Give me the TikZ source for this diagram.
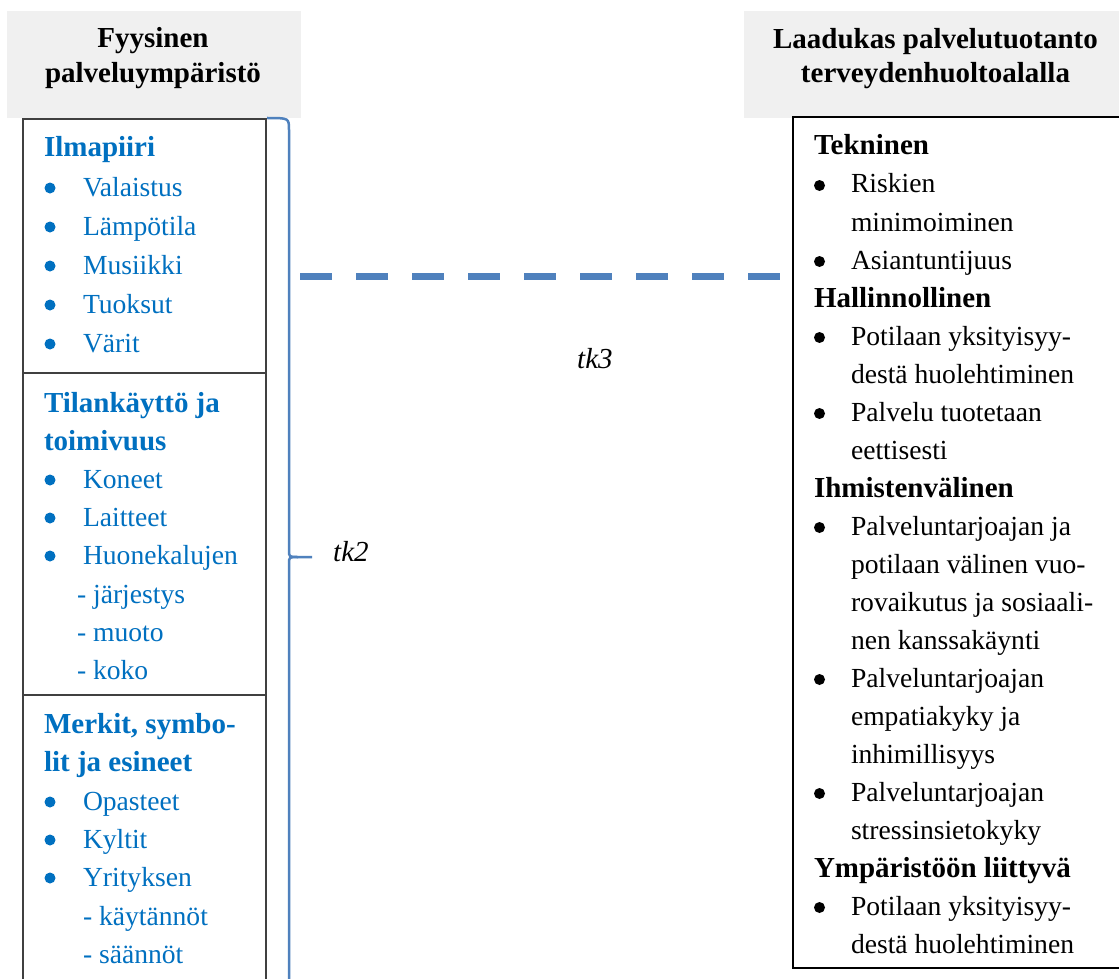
\documentclass[tikz,border=0pt]{standalone}
\usepackage{fontspec}
\setmainfont{Liberation Serif}
\definecolor{itemblue}{HTML}{0070C0}
\definecolor{linkblue}{HTML}{4F81BD}
\definecolor{headgray}{HTML}{F0F0F0}
\definecolor{framegray}{HTML}{404040}

\begin{document}
\begin{tikzpicture}[x=1pt,y=-1pt,
  txt/.style={inner sep=0pt, outer sep=0pt, anchor=base west},
  headtxt/.style={inner sep=0pt, outer sep=0pt, anchor=base, font=\bfseries\fontsize{29}{34}\selectfont},
  lhead/.style={txt, text=itemblue, font=\bfseries\fontsize{29}{34}\selectfont},
  litem/.style={txt, text=itemblue, font=\fontsize{27.6}{34}\selectfont},
  rhead/.style={txt, font=\bfseries\fontsize{29}{34}\selectfont},
  ritem/.style={txt, font=\fontsize{27.6}{34}\selectfont},
  lbul/.style={circle, fill=itemblue, inner sep=0pt, minimum size=11pt},
  rbul/.style={circle, fill=black, inner sep=0pt, minimum size=11pt},
  tklabel/.style={inner sep=0pt, anchor=base west, font=\itshape\fontsize{29}{34}\selectfont},
  brace/.style={draw=linkblue, line width=2.5pt},
  link/.style={draw=linkblue, line width=7.5pt, dash pattern=on 32pt off 24pt}
]
\clip (0,0) rectangle (1119,979);
\fill[white] (0,0) rectangle (1119,979);

% header panels
\fill[headgray] (7,11) rectangle (301,118);
\fill[headgray] (744,11) rectangle (1125,118);
\node[headtxt] (lh1) at (153,48) {Fyysinen};
\node[headtxt] (lh2) at (153,83) {palveluympäristö};
\node[headtxt] (rh1) at (935.5,49) {Laadukas palvelutuotanto};
\node[headtxt] (rh2) at (935.5,83) {terveydenhuoltoalalla};

% left frame with its three sections
\draw[framegray, line width=2.2pt] (23,990) -- (23,119) -- (266,119) -- (266,990);
\draw[framegray, line width=2.6pt] (23,373) -- (266,373);
\draw[framegray, line width=2.6pt] (23,695) -- (266,695);

% right frame
\draw[black, line width=1.8pt] (1130,117) -- (793,117) -- (793,968) -- (1130,968);

% left section headings
\foreach \y/\t [count=\i] in {157/Ilmapiiri, 412/{Tilankäyttö ja}, 450/toimivuus,
    733/{Merkit, symbo-}, 771/{lit ja esineet}}
  \node[lhead] (lsec\i) at (44,\y) {\t};

% left bulleted items
\foreach \y/\t [count=\i] in {196/Valaistus, 235/Lämpötila, 274/Musiikki, 313/Tuoksut,
    352/Värit, 488/Koneet, 526/Laitteet, 564/Huonekalujen, 810/Opasteet, 848/Kyltit,
    886/Yrityksen} {
  \node[lbul] (lb\i) at (50,\y-8) {};
  \node[litem] (li\i) at (83,\y) {\t};
}

% left sub-items
\foreach \x/\y/\t [count=\i] in {77/603/{- järjestys}, 77/641/{- muoto}, 77/679/{- koko},
    83/925/{- käytännöt}, 83/963/{- säännöt}}
  \node[litem] (ls\i) at (\x,\y) {\t};

% right section headings
\foreach \y/\t [count=\i] in {155/Tekninen, 307/Hallinnollinen, 497/Ihmistenvälinen,
    877/{Ympäristöön liittyvä}}
  \node[rhead] (rsec\i) at (814,\y) {\t};

% right bulleted items
\foreach \y/\t [count=\i] in {193/Riskien, 269/Asiantuntijuus, 345/{Potilaan yksityisyy-},
    421/{Palvelu tuotetaan}, 535/{Palveluntarjoajan ja}, 687/Palveluntarjoajan,
    801/Palveluntarjoajan, 915/{Potilaan yksityisyy-}} {
  \node[rbul] (rb\i) at (819.5,\y-7.5) {};
  \node[ritem] (ri\i) at (851,\y) {\t};
}

% right continuation lines
\foreach \y/\t [count=\i] in {231/minimoiminen, 383/{destä huolehtiminen}, 459/eettisesti,
    573/{potilaan välinen vuo-}, 611/{rovaikutus ja sosiaali-}, 649/{nen kanssakäynti},
    725/{empatiakyky ja}, 763/inhimillisyys, 839/stressinsietokyky,
    953/{destä huolehtiminen}}
  \node[ritem] (rc\i) at (851,\y) {\t};

% brace grouping the left sections
\coordinate (btip) at (312,557);
\draw[brace] (267,118) .. controls (289,118) and (289,118) .. (289,130)
  -- (289,550) .. controls (289,557) .. (298,557) -- (btip);
\draw[brace] (298,557) .. controls (289,557) .. (289,564) -- (289,990);
\node[tklabel] (tk2) at (333,561) {tk2};

% dashed link between the two columns
\coordinate (linkA) at (300,276.7);
\coordinate (linkB) at (780,276.7);
\draw[link] (linkA) -- (linkB);
\node[tklabel] (tk3) at (577,368) {tk3};
\end{tikzpicture}
\end{document}
